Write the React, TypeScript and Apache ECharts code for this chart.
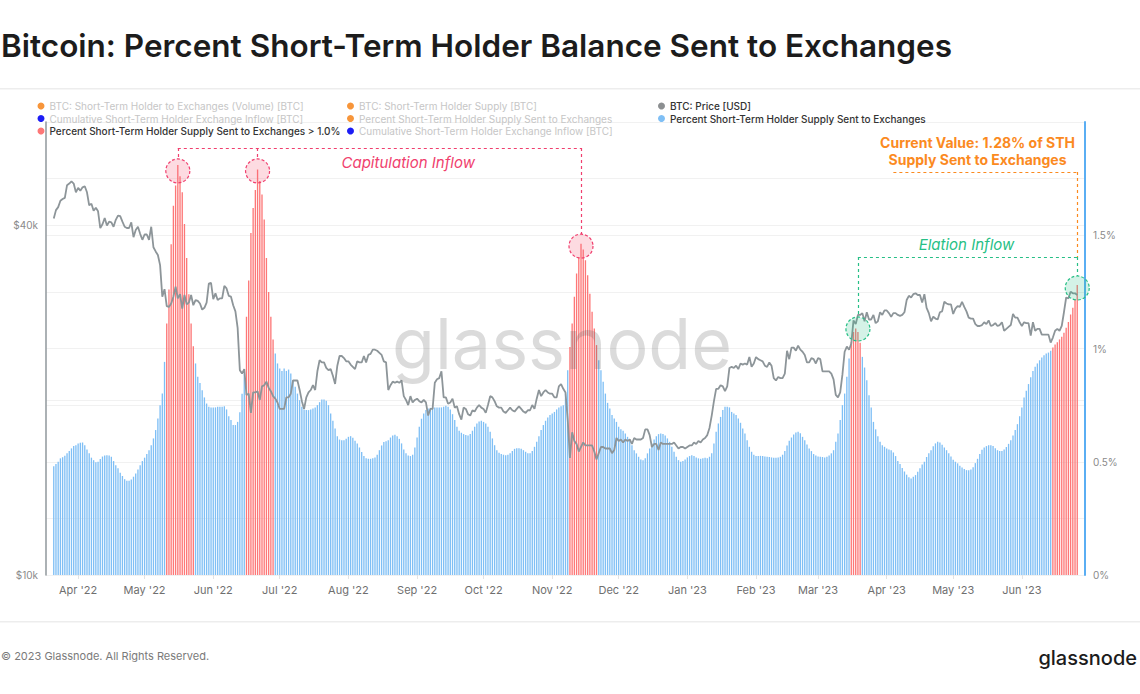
import React, { useEffect, useRef } from "react";
import * as echarts from "echarts";

// ---------- data ----------
const START_DATE = "2022-03-21"; // first daily observation
const PAD_DAYS_BEFORE = 3; // empty days before/after the data on the time axis
const PAD_DAYS_AFTER = 3;
const THRESHOLD = 1.0;

// BTC price, daily, thousands of USD (2022-03-21 .. 2023-06-26)
const priceK: number[] = [
  // Mar 2022 (21-31)
  41.0, 42.4, 42.9, 44.0, 44.3, 44.5, 46.8, 47.1, 47.5, 47.1, 45.5,
  // Apr 2022
  46.3, 45.8, 46.4, 46.6, 45.5, 43.2, 43.5, 42.3, 42.8, 42.2, 39.5, 40.1, 41.1, 39.9, 40.5,
  40.4, 39.7, 40.8, 41.5, 41.4, 40.5, 39.7, 39.5, 39.5, 40.4, 38.1, 39.2, 39.7, 38.6, 37.7,
  // May 2022
  38.5, 38.5, 37.7, 39.7, 36.6, 36.0, 35.5, 34.1, 30.1, 31.0, 29.0, 28.9, 29.3, 30.1, 31.3,
  29.9, 30.4, 28.7, 30.3, 29.2, 29.4, 30.3, 29.1, 29.7, 29.6, 29.3, 28.6, 28.8, 29.4, 31.7, 31.8,
  // Jun 2022
  29.8, 30.5, 29.7, 29.9, 29.9, 31.4, 31.1, 30.2, 30.1, 29.1, 28.4, 26.6, 22.5, 22.2, 22.6,
  20.4, 20.5, 19.0, 20.6, 20.6, 20.7, 20.0, 21.1, 21.2, 21.5, 21.0, 20.7, 20.3, 20.1, 19.8,
  // Jul 2022
  19.3, 19.3, 19.3, 20.2, 20.2, 20.5, 21.6, 21.6, 21.6, 20.8, 19.9, 19.3, 20.2, 20.6, 20.8,
  21.2, 20.8, 22.4, 23.4, 23.2, 23.2, 22.7, 22.5, 22.6, 22.0, 21.3, 22.9, 23.8, 23.8, 23.6, 23.3,
  // Aug 2022
  23.3, 23.0, 22.8, 22.6, 23.3, 23.2, 23.2, 23.8, 23.2, 23.9, 24.0, 24.4, 24.4, 24.3, 24.1,
  23.9, 23.3, 23.2, 20.8, 21.2, 21.5, 21.4, 21.5, 21.4, 21.6, 20.3, 20.0, 19.6, 20.3, 19.8, 20.0,
  // Sep 2022
  20.1, 19.9, 19.8, 20.0, 19.8, 18.8, 19.3, 19.3, 21.4, 21.7, 21.8, 22.4, 20.2, 20.2, 19.7,
  19.8, 20.1, 19.4, 19.5, 18.9, 18.5, 19.4, 19.3, 18.9, 18.8, 19.2, 19.1, 19.4, 19.6, 19.4,
  // Oct 2022
  19.3, 19.0, 19.6, 20.3, 20.2, 19.9, 19.5, 19.4, 19.4, 19.1, 19.0, 19.2, 19.4, 19.2, 19.1,
  19.3, 19.5, 19.3, 19.1, 19.0, 19.2, 19.2, 19.6, 19.3, 20.1, 20.8, 20.3, 20.6, 20.8, 20.6, 20.5,
  // Nov 2022
  20.5, 20.2, 20.2, 21.1, 21.3, 20.9, 20.6, 18.5, 15.9, 17.6, 17.0, 16.8, 16.3, 16.6, 16.9,
  16.7, 16.7, 16.7, 16.7, 16.3, 15.8, 16.2, 16.6, 16.6, 16.5, 16.5, 16.5, 16.2, 16.4, 17.2,
  // Dec 2022
  17.0, 17.1, 16.9, 17.1, 17.0, 17.1, 16.8, 17.2, 17.1, 17.1, 17.1, 17.2, 17.8, 17.8, 17.4,
  16.6, 16.8, 16.8, 16.4, 16.9, 16.8, 16.8, 16.8, 16.8, 16.8, 16.9, 16.7, 16.5, 16.6, 16.6, 16.5,
  // Jan 2023
  16.6, 16.7, 16.7, 16.9, 16.8, 17.0, 16.9, 17.1, 17.2, 17.4, 17.9, 18.8, 19.9, 20.9, 20.9,
  21.2, 21.1, 20.7, 21.1, 22.7, 22.8, 22.7, 22.9, 22.6, 23.1, 23.0, 23.1, 23.0, 23.7, 22.8, 23.1,
  // Feb 2023
  23.7, 23.5, 23.4, 23.3, 22.9, 22.8, 23.2, 22.9, 21.8, 21.6, 21.9, 21.8, 21.8, 22.2,
  24.3, 23.5, 24.6, 24.6, 24.3, 24.8, 24.4, 24.2, 23.9, 23.2, 23.2, 23.6, 23.5, 23.1,
  // Mar 2023
  23.6, 23.5, 22.4, 22.4, 22.4, 22.4, 22.2, 21.7, 20.4, 20.2, 20.6, 22.1, 24.2, 24.7, 24.4,
  25.0, 27.4, 27.0, 28.0, 28.0, 28.2, 27.3, 28.3, 27.5, 27.5, 28.0, 27.1, 27.3, 28.3, 28.0, 28.5,
  // Apr 2023
  28.5, 28.2, 27.8, 28.2, 28.2, 28.0, 27.9, 28.0, 28.3, 29.7, 30.2, 30.0, 30.4, 30.5, 30.3,
  30.3, 29.4, 30.4, 28.8, 28.2, 27.3, 27.8, 27.6, 27.5, 28.3, 28.4, 29.5, 29.3, 29.2, 29.2,
  // May 2023
  28.1, 28.7, 29.0, 28.9, 29.5, 28.9, 28.4, 27.7, 27.6, 27.6, 27.0, 26.8, 26.8, 26.9, 27.2,
  27.0, 27.4, 26.8, 26.9, 27.1, 26.8, 26.9, 27.2, 26.3, 26.5, 26.7, 26.9, 28.1, 27.7, 27.7, 27.2,
  // Jun 2023 (1-26)
  26.8, 27.2, 27.1, 27.1, 25.8, 27.2, 26.3, 26.5, 26.5, 25.9, 25.9, 25.9, 25.9, 25.1, 25.6,
  26.3, 26.5, 26.3, 26.8, 28.3, 30.0, 29.9, 30.7, 30.5, 30.5, 30.3,
];

// Percent of short-term holder supply sent to exchanges, daily, %
const sthPercent: number[] = [
  0.48, 0.49, 0.5, 0.515, 0.52, 0.526, 0.537, 0.548, 0.559, 0.569,
  0.573, 0.581, 0.584, 0.585, 0.573, 0.554, 0.537, 0.518, 0.507, 0.498,
  0.5, 0.512, 0.523, 0.528, 0.529, 0.528, 0.522, 0.503, 0.485, 0.471,
  0.451, 0.437, 0.423, 0.416, 0.416, 0.422, 0.434, 0.448, 0.466, 0.485,
  0.503, 0.518, 0.534, 0.551, 0.573, 0.603, 0.64, 0.691, 0.75, 0.801,
  0.941, 1.11, 1.26, 1.46, 1.63, 1.72, 1.81, 1.76, 1.69, 1.55,
  1.4, 1.24, 1.11, 1.01, 0.934, 0.875, 0.848, 0.816, 0.784, 0.757,
  0.743, 0.74, 0.74, 0.74, 0.743, 0.743, 0.743, 0.745, 0.731, 0.701,
  0.684, 0.662, 0.662, 0.676, 0.718, 0.8, 0.89, 1.14, 1.3, 1.51,
  1.62, 1.7, 1.79, 1.74, 1.68, 1.57, 1.4, 1.25, 1.14, 1.04,
  0.978, 0.934, 0.912, 0.901, 0.912, 0.901, 0.907, 0.89, 0.86, 0.831,
  0.801, 0.772, 0.743, 0.731, 0.728, 0.728, 0.731, 0.735, 0.74, 0.75,
  0.763, 0.775, 0.775, 0.769, 0.75, 0.713, 0.681, 0.647, 0.613, 0.598,
  0.595, 0.595, 0.601, 0.61, 0.613, 0.606, 0.593, 0.581, 0.563, 0.543,
  0.525, 0.516, 0.513, 0.513, 0.515, 0.519, 0.531, 0.551, 0.572, 0.587,
  0.59, 0.595, 0.607, 0.616, 0.619, 0.613, 0.601, 0.581, 0.554, 0.537,
  0.528, 0.525, 0.531, 0.563, 0.607, 0.654, 0.69, 0.713, 0.728, 0.735,
  0.738, 0.74, 0.74, 0.74, 0.74, 0.74, 0.743, 0.747, 0.743, 0.731,
  0.71, 0.684, 0.654, 0.637, 0.628, 0.622, 0.618, 0.616, 0.622, 0.637,
  0.654, 0.669, 0.678, 0.681, 0.676, 0.669, 0.654, 0.632, 0.603, 0.573,
  0.551, 0.54, 0.534, 0.531, 0.529, 0.531, 0.537, 0.548, 0.557, 0.56,
  0.56, 0.557, 0.551, 0.544, 0.537, 0.537, 0.548, 0.566, 0.588, 0.613,
  0.64, 0.662, 0.681, 0.695, 0.706, 0.713, 0.72, 0.731, 0.74, 0.745,
  0.75, 0.801, 0.904, 1.007, 1.11, 1.228, 1.331, 1.404, 1.463, 1.437,
  1.39, 1.323, 1.242, 1.162, 1.088, 1.015, 0.948, 0.904, 0.853, 0.801,
  0.76, 0.735, 0.706, 0.691, 0.676, 0.654, 0.643, 0.637, 0.625, 0.61,
  0.595, 0.573, 0.551, 0.537, 0.522, 0.51, 0.507, 0.515, 0.537, 0.559,
  0.581, 0.598, 0.613, 0.622, 0.625, 0.622, 0.616, 0.603, 0.588, 0.566,
  0.544, 0.522, 0.507, 0.5, 0.503, 0.51, 0.519, 0.525, 0.529, 0.525,
  0.519, 0.515, 0.513, 0.515, 0.518, 0.515, 0.522, 0.537, 0.581, 0.632,
  0.669, 0.698, 0.728, 0.743, 0.743, 0.74, 0.72, 0.713, 0.706, 0.691,
  0.672, 0.647, 0.625, 0.595, 0.566, 0.544, 0.531, 0.525, 0.525, 0.526,
  0.525, 0.523, 0.522, 0.521, 0.519, 0.518, 0.518, 0.519, 0.522, 0.531,
  0.548, 0.572, 0.593, 0.607, 0.62, 0.629, 0.632, 0.626, 0.61, 0.595,
  0.576, 0.559, 0.547, 0.534, 0.528, 0.523, 0.522, 0.521, 0.519, 0.522,
  0.528, 0.537, 0.551, 0.588, 0.625, 0.684, 0.75, 0.801, 0.875, 0.956,
  1.029, 1.073, 1.088, 1.073, 1.025, 0.963, 0.916, 0.86, 0.794, 0.74,
  0.676, 0.643, 0.613, 0.588, 0.573, 0.566, 0.559, 0.554, 0.551, 0.541,
  0.525, 0.503, 0.49, 0.472, 0.457, 0.443, 0.432, 0.426, 0.434, 0.441,
  0.456, 0.471, 0.488, 0.5, 0.521, 0.537, 0.551, 0.568, 0.581, 0.588,
  0.585, 0.575, 0.563, 0.551, 0.538, 0.523, 0.509, 0.5, 0.493, 0.482,
  0.475, 0.468, 0.463, 0.463, 0.466, 0.476, 0.494, 0.513, 0.534, 0.553,
  0.563, 0.569, 0.573, 0.573, 0.569, 0.56, 0.551, 0.548, 0.548, 0.554,
  0.565, 0.579, 0.595, 0.616, 0.64, 0.666, 0.701, 0.74, 0.784, 0.813,
  0.843, 0.873, 0.901, 0.919, 0.934, 0.948, 0.96, 0.97, 0.978, 0.982,
  0.99, 1.004, 1.018, 1.028, 1.04, 1.052, 1.07, 1.092, 1.117, 1.15,
  1.18, 1.217, 1.28,
];

const MONTHS = ["Jan", "Feb", "Mar", "Apr", "May", "Jun", "Jul", "Aug", "Sep", "Oct", "Nov", "Dec"];

const LEFT_TICKS_SHOWN = [10000, 40000];
const RIGHT_TICKS_SHOWN = [0, 0.5, 1, 1.5];

// annotation anchors (date, % value)
const capitulationPeaks = [
  { date: "2022-05-16", value: 1.784 },
  { date: "2022-06-21", value: 1.784 },
  { date: "2022-11-14", value: 1.452 },
];
const capitulationBracket = 1.885;
const capitulationLabel = { date: "2022-08-28", value: 1.823, text: "Capitulation Inflow" };
const elationPoints = [
  { date: "2023-03-19", value: 1.086 },
  { date: "2023-06-26", value: 1.267 },
];
const elationBracket = 1.404;
const elationLabel = { date: "2023-05-07", value: 1.457, text: "Elation Inflow" };
const currentLine = { from: "2023-04-04", to: "2023-06-26", value: 1.779 };
const currentLabel = {
  date: "2023-05-12",
  value: 1.872,
  text: "Current Value: 1.28% of STH\nSupply Sent to Exchanges",
};

// ---------- names ----------
const N_VOL = "BTC: Short-Term Holder to Exchanges (Volume) [BTC]";
const N_CUM = "Cumulative Short-Term Holder Exchange Inflow [BTC]";
const N_RED = "Percent Short-Term Holder Supply Sent to Exchanges > 1.0%";
const N_SUP = "BTC: Short-Term Holder Supply [BTC]";
const N_PCT_OFF = "Percent Short-Term Holder Supply Sent to Exchanges ";
const N_CUM2 = "Cumulative Short-Term Holder Exchange Inflow [BTC] ";
const N_PRICE = "BTC: Price [USD]";
const N_PCT = "Percent Short-Term Holder Supply Sent to Exchanges";

function buildDates(): string[] {
  const [y, m, d] = START_DATE.split("-").map(Number);
  const start = Date.UTC(y, m - 1, d);
  const total = PAD_DAYS_BEFORE + priceK.length + PAD_DAYS_AFTER;
  const out: string[] = [];
  for (let i = 0; i < total; i++) {
    out.push(new Date(start + (i - PAD_DAYS_BEFORE) * 86400000).toISOString().slice(0, 10));
  }
  return out;
}

export default function App() {
  const ref = useRef<HTMLDivElement>(null);

  useEffect(() => {
    if (!ref.current) return;
    const chart = echarts.init(ref.current, undefined, { renderer: "svg" });

    const dates = buildDates();
    const pad = (arr: (number | string)[]) => [
      ...Array(PAD_DAYS_BEFORE).fill("-"),
      ...arr,
      ...Array(PAD_DAYS_AFTER).fill("-"),
    ];
    const blueData = pad(sthPercent.map((v) => (v <= THRESHOLD ? v : "-")));
    const redData = pad(sthPercent.map((v) => (v > THRESHOLD ? v : "-")));
    const priceData = pad(priceK.map((p) => Math.log10(p * 1000)));

    const isMonthStart = (_i: number, v: string) => v.endsWith("-01");
    const fmtMonth = (v: string) => {
      const [yy, mm] = v.split("-");
      return `${MONTHS[Number(mm) - 1]} '${yy.slice(2)}`;
    };

    const FONT = "Inter, 'Noto Sans', sans-serif";
    const PINK = "#f03f6e";
    const GREEN = "#27bf86";
    const ORANGE = "#fb8a1f";
    const CIRCLE_OFF = 0.053;

    const dashed = (color: string) => ({ color, width: 1.2, type: [3, 3] as any });

    const markLineData: any[] = [];
    markLineData.push([
      { coord: [capitulationPeaks[0].date, capitulationBracket], lineStyle: dashed(PINK) },
      { coord: [capitulationPeaks[2].date, capitulationBracket] },
    ]);
    capitulationPeaks.forEach((p) =>
      markLineData.push([
        { coord: [p.date, capitulationBracket], lineStyle: dashed(PINK) },
        { coord: [p.date, p.value + CIRCLE_OFF] },
      ])
    );
    markLineData.push([
      { coord: [elationPoints[0].date, elationBracket], lineStyle: dashed(GREEN) },
      { coord: [elationPoints[1].date, elationBracket] },
    ]);
    elationPoints.forEach((p) =>
      markLineData.push([
        { coord: [p.date, elationBracket], lineStyle: dashed(GREEN) },
        { coord: [p.date, p.value + CIRCLE_OFF] },
      ])
    );
    markLineData.push([
      { coord: [currentLine.from, currentLine.value], lineStyle: dashed(ORANGE) },
      { coord: [currentLine.to, currentLine.value] },
    ]);
    markLineData.push([
      { coord: [currentLine.to, currentLine.value], lineStyle: dashed(ORANGE) },
      { coord: [currentLine.to, elationBracket] },
    ]);

    const circle = (p: { date: string; value: number }, stroke: string, fill: string) => ({
      coord: [p.date, p.value],
      symbol: "circle",
      symbolSize: 24,
      itemStyle: { color: fill, borderColor: stroke, borderWidth: 1.2, borderType: [3, 2] },
      label: { show: false },
    });
    const textPoint = (
      p: { date: string; value: number; text: string },
      color: string,
      extra: any
    ) => ({
      coord: [p.date, p.value],
      symbol: "rect",
      symbolSize: 1,
      itemStyle: { color: "rgba(0,0,0,0)" },
      label: {
        show: true,
        position: "inside",
        formatter: p.text,
        color,
        fontFamily: FONT,
        ...extra,
      },
    });

    const markPointData = [
      ...capitulationPeaks.map((p) => circle(p, PINK, "rgba(244,90,120,0.22)")),
      ...elationPoints.map((p) => circle(p, GREEN, "rgba(40,190,135,0.2)")),
      textPoint(capitulationLabel, PINK, { fontSize: 15, fontStyle: "italic" }),
      textPoint(elationLabel, GREEN, { fontSize: 15, fontStyle: "italic" }),
      textPoint(currentLabel, ORANGE, {
        fontSize: 14,
        fontWeight: 700,
        lineHeight: 17,
        align: "center",
      }),
    ];

    const inactive = "#c6c6c6";
    const active = "#333333";
    const legendBase = {
      orient: "vertical",
      top: 100,
      padding: 0,
      itemGap: 0.5,
      itemWidth: 7,
      itemHeight: 7,
      icon: "circle",
      selectedMode: false,
      formatter: (n: string) => n.trim(),
      textStyle: { fontSize: 10, fontFamily: FONT, lineHeight: 12 },
    };
    const li = (name: string, on: boolean) => ({
      name,
      textStyle: { color: on ? active : inactive, fontWeight: on ? 500 : 400 },
    });

    const dummy = (name: string, color: string) => ({
      name,
      type: "line",
      data: [],
      color,
      itemStyle: { color },
      lineStyle: { color },
    });

    chart.setOption({
      animation: false,
      textStyle: { fontFamily: FONT },
      grid: { left: 46, right: 55, top: 122, bottom: 119, containLabel: false },
      legend: [
        { ...legendBase, left: 37.5, data: [li(N_VOL, false), li(N_CUM, false), li(N_RED, true)] },
        { ...legendBase, left: 347, data: [li(N_SUP, false), li(N_PCT_OFF, false), li(N_CUM2, false)] },
        { ...legendBase, left: 658, data: [li(N_PRICE, true), li(N_PCT, true)] },
      ],
      xAxis: {
        type: "category",
        data: dates,
        boundaryGap: true,
        axisLine: { show: false },
        axisTick: {
          show: true,
          alignWithLabel: true,
          interval: isMonthStart,
          length: 4,
          lineStyle: { color: "#e3e3e3" },
        },
        axisLabel: {
          interval: isMonthStart,
          formatter: fmtMonth,
          color: "#6f6f6f",
          fontSize: 11,
          fontFamily: FONT,
          margin: 9,
        },
        splitLine: { show: false },
      },
      yAxis: [
        {
          type: "value",
          position: "left",
          min: 4,
          max: Math.log10(60100),
          interval: Math.log10(2),
          axisLine: { show: true, lineStyle: { color: "#979ea2", width: 1.6 } },
          axisTick: { show: false },
          axisLabel: {
            color: "#8a8a8a",
            fontSize: 10,
            fontFamily: FONT,
            margin: 8,
            formatter: (v: number) => {
              const hit = LEFT_TICKS_SHOWN.find((t) => Math.abs(Math.log10(t) - v) < 1e-4);
              return hit ? `$${hit / 1000}k` : "";
            },
          },
          splitLine: { show: true, lineStyle: { color: "#f1f1f1", width: 1 } },
        },
        {
          type: "value",
          position: "right",
          min: 0,
          max: 2,
          interval: 0.25,
          axisLine: { show: true, lineStyle: { color: "#5aaef3", width: 2 } },
          axisTick: { show: false },
          axisLabel: {
            color: "#8a8a8a",
            fontSize: 10,
            fontFamily: FONT,
            margin: 8,
            formatter: (v: number) =>
              RIGHT_TICKS_SHOWN.some((t) => Math.abs(t - v) < 1e-6) ? `${v}%` : "",
          },
          splitLine: { show: true, lineStyle: { color: "#f1f1f1", width: 1 } },
        },
      ],
      series: [
        dummy(N_VOL, "#f7953a"),
        dummy(N_CUM, "#1c1cf5"),
        dummy(N_SUP, "#f7953a"),
        dummy(N_PCT_OFF, "#f7953a"),
        dummy(N_CUM2, "#1c1cf5"),
        {
          name: N_PCT,
          type: "bar",
          yAxisIndex: 1,
          data: blueData,
          barWidth: "60%",
          itemStyle: { color: "#7fbff5" },
          color: "#5fb1f3",
          z: 2,
        },
        {
          name: N_RED,
          type: "bar",
          yAxisIndex: 1,
          data: redData,
          barWidth: "60%",
          barGap: "-100%",
          itemStyle: { color: "#fd7777" },
          color: "#f65a5a",
          z: 2,
          markLine: {
            silent: true,
            symbol: ["none", "none"],
            label: { show: false },
            emphasis: { disabled: true },
            data: markLineData,
          },
          markPoint: {
            silent: true,
            data: markPointData,
          },
        },
        {
          name: N_PRICE,
          type: "line",
          yAxisIndex: 0,
          data: priceData,
          symbol: "none",
          color: "#8c8f91",
          lineStyle: { color: "#8d9599", width: 1.8 },
          itemStyle: { color: "#8c8f91" },
          z: 3,
        },
      ],
      graphic: [
        {
          type: "text",
          x: 1,
          y: 45,
          style: {
            text: "Bitcoin: Percent Short-Term Holder Balance Sent to Exchanges",
            font: `600 31.5px ${FONT}`,
            fill: "#1c1c1c",
            textVerticalAlign: "middle",
          },
        },
        { type: "rect", shape: { x: 0, y: 88, width: 1140, height: 1.5 }, style: { fill: "#ededed" } },
        { type: "rect", shape: { x: 0, y: 621, width: 1140, height: 1.5 }, style: { fill: "#ededed" } },
        {
          type: "text",
          x: 1,
          y: 656,
          style: {
            text: "© 2023 Glassnode. All Rights Reserved.",
            font: `11px ${FONT}`,
            fill: "#7a7a7a",
            textVerticalAlign: "middle",
          },
        },
        {
          type: "text",
          x: 1137,
          y: 658,
          style: {
            text: "glassnode",
            font: `500 20px ${FONT}`,
            fill: "#1c1c1c",
            textAlign: "right",
            textVerticalAlign: "middle",
          },
        },
        {
          type: "text",
          x: 562,
          y: 343,
          z: 100,
          silent: true,
          style: {
            text: "glassnode",
            font: `400 70px ${FONT}`,
            fill: "rgba(90,90,90,0.22)",
            textAlign: "center",
            textVerticalAlign: "middle",
          },
        },
      ],
    });

    return () => chart.dispose();
  }, []);

  return (
    <div
      ref={ref}
      style={{ position: "fixed", left: 0, top: 0, width: 1140, height: 694, background: "#fff" }}
    />
  );
}
